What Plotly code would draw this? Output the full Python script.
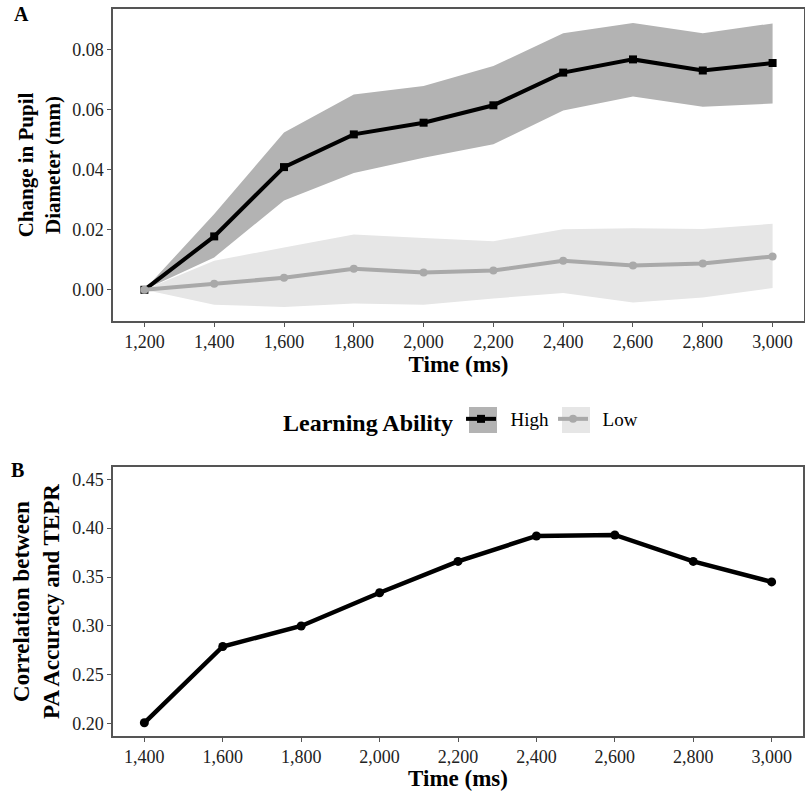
import plotly.graph_objects as go

# ---- data ----
time_a = [1200, 1400, 1600, 1800, 2000, 2200, 2400, 2600, 2800, 3000]
high_mean = [0.0, 0.0178, 0.0409, 0.0518, 0.0557, 0.0615, 0.0724, 0.0768, 0.0731, 0.0756]
high_upper = [0.0, 0.0253, 0.0524, 0.0651, 0.0679, 0.0746, 0.0855, 0.0889, 0.0855, 0.0888]
high_lower = [0.0, 0.0108, 0.0298, 0.0389, 0.0440, 0.0485, 0.0598, 0.0644, 0.0610, 0.0621]
low_mean = [0.0, 0.0020, 0.0040, 0.0070, 0.0058, 0.0064, 0.0097, 0.0081, 0.0088, 0.0111]
low_upper = [0.0, 0.0097, 0.0141, 0.0184, 0.0173, 0.0162, 0.0202, 0.0205, 0.0203, 0.0220]
low_lower = [0.0, -0.0050, -0.0057, -0.0046, -0.0050, -0.0029, -0.0011, -0.0042, -0.0026, 0.0006]

time_b = [1400, 1600, 1800, 2000, 2200, 2400, 2600, 2800, 3000]
corr_b = [0.201, 0.279, 0.300, 0.334, 0.366, 0.392, 0.393, 0.366, 0.345]

ticks_a_x = [1200, 1400, 1600, 1800, 2000, 2200, 2400, 2600, 2800, 3000]
ticks_a_y = [0.00, 0.02, 0.04, 0.06, 0.08]
ticks_b_x = [1400, 1600, 1800, 2000, 2200, 2400, 2600, 2800, 3000]
ticks_b_y = [0.20, 0.25, 0.30, 0.35, 0.40, 0.45]
group_names = ["High", "Low"]

FONT = "Liberation Serif"
BORDER = "#555555"
HIGH_FILL = "#b3b3b3"
LOW_FILL = "#e6e6e6"
LOW_LINE = "#a9a9a9"
W, H = 805, 791
PAD = "\u00a0\u00a0"

fig = go.Figure()

# ribbons
fig.add_trace(go.Scatter(x=time_a, y=high_lower, mode="lines", line=dict(width=0),
                         showlegend=False, hoverinfo="skip", xaxis="x", yaxis="y"))
fig.add_trace(go.Scatter(x=time_a, y=high_upper, mode="lines", line=dict(width=0),
                         fill="tonexty", fillcolor=HIGH_FILL, showlegend=False,
                         hoverinfo="skip", xaxis="x", yaxis="y"))
fig.add_trace(go.Scatter(x=time_a, y=low_lower, mode="lines", line=dict(width=0),
                         showlegend=False, hoverinfo="skip", xaxis="x", yaxis="y"))
fig.add_trace(go.Scatter(x=time_a, y=low_upper, mode="lines", line=dict(width=0),
                         fill="tonexty", fillcolor=LOW_FILL, showlegend=False,
                         hoverinfo="skip", xaxis="x", yaxis="y"))
# lines
fig.add_trace(go.Scatter(x=time_a, y=high_mean, mode="lines+markers", name=PAD + group_names[0],
                         line=dict(color="black", width=4),
                         marker=dict(symbol="square", size=8, color="black"),
                         xaxis="x", yaxis="y"))
fig.add_trace(go.Scatter(x=time_a, y=low_mean, mode="lines+markers", name=PAD + group_names[1],
                         line=dict(color=LOW_LINE, width=4),
                         marker=dict(symbol="circle", size=8, color=LOW_LINE),
                         xaxis="x", yaxis="y"))

# panel B
fig.add_trace(go.Scatter(x=time_b, y=corr_b, mode="lines+markers",
                         line=dict(color="black", width=4.5),
                         marker=dict(symbol="circle", size=9, color="black"),
                         showlegend=False, xaxis="x2", yaxis="y2"))

axis_common = dict(showgrid=False, zeroline=False, showline=True, mirror=True,
                   linecolor=BORDER, linewidth=1.5, ticks="outside", ticklen=4,
                   tickcolor=BORDER, tickwidth=1.2, automargin=False,
                   tickfont=dict(family=FONT, size=18, color="#222222"))

# legend key backgrounds (decoration behind the legend symbols)
key_boxes = [
    dict(type="rect", xref="paper", yref="paper", x0=469 / W, x1=497 / W,
         y0=1 - 433 / H, y1=1 - 407 / H, fillcolor=HIGH_FILL, line=dict(width=0), layer="above"),
    dict(type="rect", xref="paper", yref="paper", x0=562 / W, x1=590 / W,
         y0=1 - 433 / H, y1=1 - 407 / H, fillcolor=LOW_FILL, line=dict(width=0), layer="above"),
]

fig.update_layout(
    width=W, height=H,
    margin=dict(l=0, r=0, t=0, b=0),
    paper_bgcolor="white", plot_bgcolor="white",
    font=dict(family=FONT, color="black"),
    xaxis=dict(domain=[113 / W, 804 / W], anchor="y", range=[1110, 3090],
               tickvals=ticks_a_x, tickformat=",d",
               title=dict(text="<b>Time (ms)</b>", font=dict(family=FONT, size=23), standoff=0),
               **axis_common),
    yaxis=dict(domain=[1 - 321 / H, 1 - 9 / H], anchor="x", range=[-0.0104, 0.0936],
               tickvals=ticks_a_y, tickformat=".2f",
               title=dict(text="<b>Change in Pupil<br>Diameter (mm)</b>",
                          font=dict(family=FONT, size=21), standoff=6),
               **axis_common),
    xaxis2=dict(domain=[113 / W, 803 / W], anchor="y2", range=[1320, 3080],
                tickvals=ticks_b_x, tickformat=",d",
                title=dict(text="<b>Time (ms)</b>", font=dict(family=FONT, size=23), standoff=0),
                **axis_common),
    yaxis2=dict(domain=[1 - 736 / H, 1 - 467 / H], anchor="x2", range=[0.1875, 0.4625],
                tickvals=ticks_b_y, tickformat=".2f",
                title=dict(text="<b>Correlation between<br>PA Accuracy and TEPR</b>",
                           font=dict(family=FONT, size=23), standoff=6),
                **axis_common),
    legend=dict(orientation="h", x=281 / W, y=1 - 421.0 / H, xanchor="left", yanchor="middle",
                traceorder="normal",
                title=dict(text="<b>Learning Ability</b>", font=dict(family=FONT, size=24)),
                font=dict(family=FONT, size=19), bgcolor="rgba(0,0,0,0)",
                itemwidth=30, entrywidth=47, entrywidthmode="pixels"),
    shapes=key_boxes,
    annotations=[
        dict(text="<b>A</b>", x=12 / W, y=1 - 14 / H, xref="paper", yref="paper",
             xanchor="left", yanchor="middle", showarrow=False, font=dict(family=FONT, size=20)),
        dict(text="<b>B</b>", x=9 / W, y=1 - 470 / H, xref="paper", yref="paper",
             xanchor="left", yanchor="middle", showarrow=False, font=dict(family=FONT, size=20)),
    ],
)

fig.write_html("out.html", config={"displayModeBar": False},
               post_script="document.body.style.margin='0';")
